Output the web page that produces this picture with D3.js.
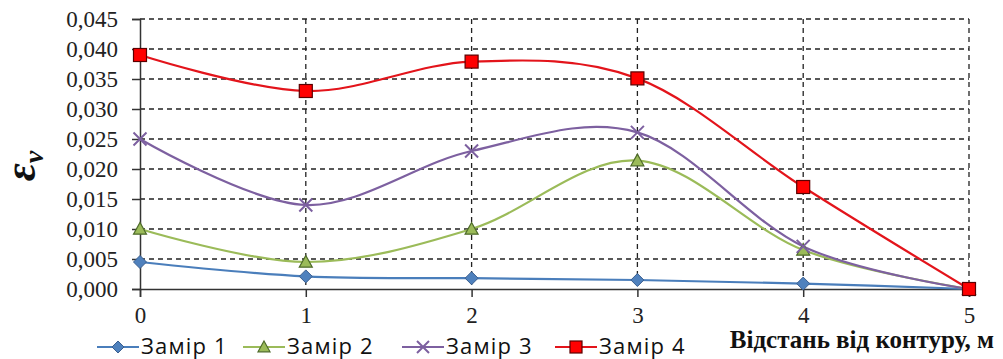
<!DOCTYPE html>
<html>
<head>
<meta charset="utf-8">
<script src="https://cdn.jsdelivr.net/npm/d3@7"></script>
<style>
  body { margin: 0; background: #fff; }
</style>
</head>
<body>
<div id="container"></div>
<script>
/* DATA */
const distances = [0, 1, 2, 3, 4, 5];
const seriesNames = ["Замір 1", "Замір 2", "Замір 3", "Замір 4"];
const zamir1 = [0.0045, 0.0021, 0.0018, 0.0015, 0.0009, 0.0];
const zamir2 = [0.0100, 0.0045, 0.0100, 0.0214, 0.0065, 0.0];
const zamir3 = [0.0250, 0.0140, 0.0230, 0.0261, 0.0071, 0.0];
const zamir4 = [0.0390, 0.0330, 0.0379, 0.0351, 0.0170, 0.0];
const yTicks = [0, 0.005, 0.010, 0.015, 0.020, 0.025, 0.030, 0.035, 0.040, 0.045];

/* CONSTANTS */
const width = 1003, height = 359,
  margin = {top: 19, right: 34, bottom: 70, left: 140};

const serif = "'Liberation Serif', 'Times New Roman', serif";
const colors = ["#4a7ebb", "#9bbb59", "#7d60a0", "#e3141b"];
const markerFill = ["#4f81bd", "#9bbb59", "#7d60a0", "#ff0000"];
const markerStroke = ["#3b5f8f", "#4e6b2a", "#7d60a0", "#5a0000"];
const allSeries = [zamir1, zamir2, zamir3, zamir4];

const svg = d3.select("#container").append("svg")
  .attr("width", width)
  .attr("height", height);

const xScale = d3.scaleLinear()
  .domain([0, 5])
  .range([margin.left, width - margin.right]);

const yScale = d3.scaleLinear()
  .domain([0, 0.045])
  .range([height - margin.bottom, margin.top]);

// gridlines (dashed)
svg.append("g")
  .selectAll("line.hgrid")
  .data(yTicks.filter(d => d > 0))
  .join("line")
  .attr("class", "hgrid")
  .attr("x1", margin.left)
  .attr("x2", width - margin.right)
  .attr("y1", d => yScale(d))
  .attr("y2", d => yScale(d))
  .attr("stroke", "#222")
  .attr("stroke-width", 1.3)
  .attr("stroke-dasharray", "5,4");

svg.append("g")
  .selectAll("line.vgrid")
  .data(distances.filter(d => d > 0))
  .join("line")
  .attr("class", "vgrid")
  .attr("x1", d => xScale(d))
  .attr("x2", d => xScale(d))
  .attr("y1", yScale(0.045))
  .attr("y2", yScale(0))
  .attr("stroke", "#222")
  .attr("stroke-width", 1.3)
  .attr("stroke-dasharray", "5,4");

// axes
const yAxis = d3.axisLeft(yScale)
  .tickValues(yTicks)
  .tickSize(8)
  .tickPadding(14)
  .tickFormat(d => d3.format(".3f")(d).replace(".", ","));

const yG = svg.append("g")
  .attr("transform", `translate(${margin.left},0)`)
  .call(yAxis);
yG.select(".domain").attr("stroke", "#333").attr("stroke-width", 1.5);
yG.selectAll(".tick line").attr("stroke", "#333").attr("stroke-width", 1.5);
yG.selectAll("text")
  .style("font-family", serif)
  .style("font-size", "23px")
  .attr("fill", "#222")
  .attr("dy", "0.34em");

const xAxis = d3.axisBottom(xScale)
  .tickValues(distances)
  .tickSize(8)
  .tickPadding(10)
  .tickFormat(d3.format("d"));

const xG = svg.append("g")
  .attr("transform", `translate(0,${yScale(0)})`)
  .call(xAxis);
xG.select(".domain").attr("stroke", "#333").attr("stroke-width", 1.5);
xG.selectAll(".tick line").attr("stroke", "#333").attr("stroke-width", 1.5);
xG.selectAll("text")
  .style("font-family", serif)
  .style("font-size", "23px")
  .attr("fill", "#222");

// lines
const line = d3.line()
  .x((d, i) => xScale(distances[i]))
  .y(d => yScale(d))
  .curve(d3.curveCardinal.tension(0));

svg.append("g")
  .selectAll("path.series")
  .data(allSeries)
  .join("path")
  .attr("class", "series")
  .attr("d", d => line(d))
  .attr("fill", "none")
  .attr("stroke", (d, i) => colors[i])
  .attr("stroke-width", 2.2);

// markers
function drawMarker(g, type, x, y, i, s) {
  if (type === 0) {
    g.append("path")
      .attr("d", `M${x},${y - s}L${x + s},${y}L${x},${y + s}L${x - s},${y}Z`)
      .attr("fill", markerFill[i]).attr("stroke", markerStroke[i]).attr("stroke-width", 1);
  } else if (type === 1) {
    g.append("path")
      .attr("d", `M${x},${y - s}L${x + s},${y + s * 0.8}L${x - s},${y + s * 0.8}Z`)
      .attr("fill", markerFill[i]).attr("stroke", markerStroke[i]).attr("stroke-width", 1.2);
  } else if (type === 2) {
    g.append("path")
      .attr("d", `M${x - s},${y - s}L${x + s},${y + s}M${x - s},${y + s}L${x + s},${y - s}`)
      .attr("stroke", markerFill[i]).attr("stroke-width", 2);
  } else {
    g.append("rect")
      .attr("x", x - s).attr("y", y - s)
      .attr("width", 2 * s).attr("height", 2 * s)
      .attr("fill", markerFill[i]).attr("stroke", markerStroke[i]).attr("stroke-width", 1.2);
  }
}

const markG = svg.append("g");
allSeries.forEach((vals, i) => {
  vals.forEach((v, j) => {
    drawMarker(markG, i, xScale(distances[j]), yScale(v), i, 6.5);
  });
});

// y axis label
const yLab = svg.append("text")
  .attr("transform", "translate(35,166) rotate(-90)")
  .attr("text-anchor", "middle")
  .style("font-family", serif)
  .attr("font-weight", "bold")
  .attr("font-style", "italic")
  .attr("fill", "#111");
yLab.append("tspan").style("font-size", "44px").text("ε");
yLab.append("tspan").style("font-size", "28px").attr("dy", 8).text("v");

// x axis title
svg.append("text")
  .attr("x", 994)
  .attr("y", 348)
  .attr("text-anchor", "end")
  .style("font-family", serif)
  .style("font-size", "25px")
  .attr("font-weight", "bold")
  .attr("fill", "#111")
  .text("Відстань від контуру, м");

// legend
const legendX = [97, 243, 402, 555];
const legend = svg.append("g");
seriesNames.forEach((name, i) => {
  const lx = legendX[i], ly = 347;
  legend.append("line")
    .attr("x1", lx).attr("x2", lx + 42)
    .attr("y1", ly).attr("y2", ly)
    .attr("stroke", colors[i]).attr("stroke-width", 2.2);
  drawMarker(legend, i, lx + 21, ly, i, 6);
  legend.append("text")
    .attr("x", lx + 44)
    .attr("y", ly + 7)
    .style("font-family", "'Open Sans', 'Liberation Sans', sans-serif")
    .style("font-size", "22px")
    .style("letter-spacing", "1.2px")
    .attr("fill", "#111")
    .text(name);
});
</script>
</body>
</html>
